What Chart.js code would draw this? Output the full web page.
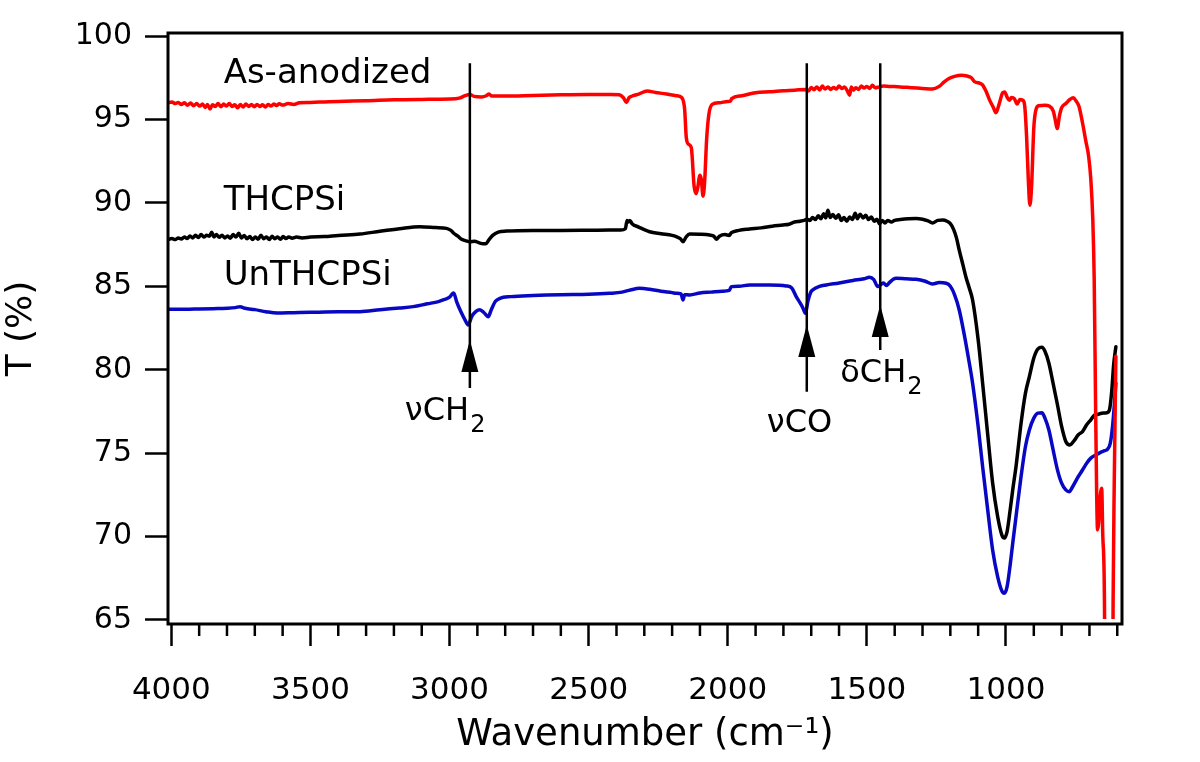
<!DOCTYPE html>
<html>
<head>
<meta charset="utf-8">
<script src="https://cdn.jsdelivr.net/npm/chart.js@4.4.1/dist/chart.umd.min.js"></script>
<style>
  html, body { margin: 0; padding: 0; background: #ffffff; }
  #c { display: block; }
</style>
</head>
<body>
<canvas id="c" width="1200" height="762"></canvas>
<script>
// ---------------- data (wavenumber cm-1, transmittance %) ----------------
const redSpectrum = [
[4010,96.0],[3998,96.05],[3986,95.95],[3975,96.02],[3964,95.9],[3953,96.0],[3942,95.85],[3931,95.98],[3920,95.82],[3909,95.95],[3898,95.8],[3888,95.92],[3878,95.72],[3870,95.9],[3861,95.62],[3852,95.88],[3842,95.78],[3832,95.95],[3822,95.76],[3812,95.92],[3802,95.8],[3792,95.96],[3782,95.78],[3772,95.88],[3762,95.7],[3752,95.9],[3742,95.74],[3732,95.92],[3722,95.78],[3712,95.9],[3702,95.76],[3692,95.9],[3682,95.78],[3672,95.88],[3662,95.74],[3652,95.9],[3642,95.8],[3632,95.92],[3622,95.84],[3612,95.94],[3600,95.86],[3580,95.95],[3560,95.9],[3540,96.0],[3500,96.02],[3450,96.05],[3400,96.08],[3300,96.12],[3200,96.18],[3100,96.2],[3000,96.22],[2965,96.28],[2945,96.42],[2927,96.5],[2912,96.38],[2885,96.35],[2868,96.42],[2858,96.52],[2848,96.4],[2800,96.4],[2700,96.44],[2600,96.48],[2500,96.5],[2420,96.5],[2390,96.48],[2375,96.3],[2364,96.02],[2355,96.3],[2340,96.42],[2320,96.52],[2290,96.7],[2260,96.62],[2220,96.52],[2185,96.42],[2165,96.3],[2155,95.6],[2149,93.9],[2140,93.5],[2131,93.3],[2121,91.0],[2114,90.55],[2107,91.0],[2101,91.65],[2095,91.4],[2089,90.4],[2083,91.3],[2076,93.8],[2068,95.3],[2056,95.9],[2030,96.0],[2000,96.08],[1990,96.1],[1986,96.25],[1950,96.42],[1900,96.6],[1850,96.66],[1800,96.72],[1760,96.75],[1720,96.8],[1710,96.7],[1700,96.92],[1690,96.78],[1680,96.95],[1670,96.76],[1660,97.0],[1650,96.82],[1640,96.95],[1630,96.8],[1620,96.92],[1610,96.82],[1600,97.0],[1590,96.85],[1580,96.95],[1570,96.7],[1562,96.45],[1556,96.95],[1548,96.75],[1540,96.9],[1530,96.8],[1520,97.0],[1510,96.88],[1500,96.98],[1490,96.86],[1480,97.05],[1470,96.9],[1455,96.95],[1440,97.0],[1420,96.98],[1380,96.95],[1340,96.9],[1300,96.86],[1265,96.82],[1240,96.98],[1222,97.25],[1205,97.45],[1185,97.58],[1160,97.65],[1140,97.6],[1125,97.5],[1112,97.25],[1100,97.2],[1085,97.08],[1072,96.7],[1060,96.2],[1045,95.7],[1036,95.4],[1025,95.9],[1012,96.6],[1005,96.65],[995,96.3],[988,96.15],[980,96.32],[970,96.25],[960,95.92],[950,96.2],[940,96.15],[933,95.85],[926,94.0],[920,91.5],[914,89.85],[908,91.0],[900,94.5],[892,95.6],[882,95.82],[860,95.85],[845,95.8],[830,95.5],[822,94.9],[816,94.45],[808,95.2],[800,95.7],[785,95.95],[770,96.2],[758,96.3],[748,96.1],[738,95.8],[725,94.8],[713,93.7],[703,92.8],[695,91.4],[688,89.0],[683,85.5],[678,78.0],[674,72.5],[671,70.4],[667,70.8],[661,72.5],[656,72.9],[652,70.0],[646,66.0],[640,40.0],[622,40.0],[615,66.0],[611,73.0],[605,80.8]
];
const blackSpectrum = [
[4010,87.82],[3998,87.86],[3986,87.8],[3975,87.9],[3964,87.83],[3953,87.96],[3943,87.86],[3933,88.02],[3923,87.9],[3913,88.06],[3903,87.92],[3893,88.1],[3883,87.95],[3873,88.06],[3863,88.0],[3855,88.24],[3847,87.96],[3838,88.1],[3828,87.94],[3818,88.06],[3808,87.9],[3798,88.02],[3788,87.88],[3778,88.1],[3768,87.95],[3758,88.18],[3748,87.9],[3738,88.05],[3728,87.85],[3718,87.98],[3708,87.8],[3698,87.95],[3688,87.82],[3678,88.06],[3668,87.85],[3658,87.96],[3648,87.8],[3638,88.0],[3628,87.85],[3618,87.96],[3608,87.82],[3598,87.98],[3588,87.86],[3578,87.96],[3566,87.88],[3550,87.95],[3530,87.9],[3500,87.95],[3450,87.98],[3400,88.05],[3322,88.13],[3250,88.3],[3180,88.45],[3107,88.57],[3050,88.52],[3011,88.47],[2995,88.35],[2985,88.18],[2970,88.0],[2957,87.82],[2940,87.72],[2927,87.67],[2910,87.7],[2895,87.62],[2880,87.55],[2870,87.55],[2858,87.8],[2845,88.05],[2825,88.25],[2795,88.31],[2700,88.35],[2600,88.35],[2500,88.36],[2424,88.37],[2385,88.37],[2368,88.45],[2362,88.95],[2357,88.85],[2352,88.95],[2344,88.75],[2320,88.55],[2281,88.27],[2240,88.15],[2200,88.05],[2185,87.97],[2170,87.85],[2161,87.67],[2150,87.95],[2137,88.13],[2100,88.12],[2065,88.07],[2050,88.0],[2041,87.82],[2030,88.0],[2010,88.1],[1995,88.05],[1987,88.21],[1960,88.35],[1922,88.43],[1880,88.5],[1840,88.6],[1802,88.67],[1780,88.72],[1760,88.85],[1740,88.9],[1725,88.95],[1715,89.02],[1705,88.95],[1695,89.12],[1685,89.0],[1675,89.22],[1665,89.05],[1655,89.35],[1648,89.1],[1640,89.55],[1632,89.12],[1622,89.3],[1612,89.08],[1602,89.28],[1592,88.95],[1582,89.12],[1572,88.9],[1562,89.15],[1552,89.0],[1542,89.38],[1534,89.05],[1524,89.32],[1514,89.1],[1504,89.25],[1494,89.0],[1484,89.15],[1474,88.9],[1464,89.02],[1455,88.75],[1445,88.95],[1435,88.8],[1425,88.95],[1412,88.85],[1400,88.95],[1380,89.0],[1350,89.05],[1323,89.07],[1300,89.02],[1280,88.92],[1264,88.8],[1245,88.95],[1227,88.97],[1212,88.9],[1200,88.75],[1188,88.4],[1178,87.9],[1168,87.17],[1155,86.3],[1143,85.5],[1132,84.9],[1120,84.18],[1100,81.8],[1084,79.2],[1065,76.0],[1048,73.21],[1030,71.2],[1015,70.1],[1006,69.91],[996,70.3],[985,71.6],[975,72.9],[964,74.19],[945,76.9],[930,78.6],[916,79.58],[900,80.7],[885,81.25],[871,81.34],[860,81.1],[846,80.4],[833,79.38],[815,77.9],[800,76.6],[785,75.7],[770,75.49],[755,75.75],[740,76.1],[725,76.29],[710,76.7],[695,77.0],[680,77.3],[670,77.32],[660,77.38],[650,77.4],[638,77.42],[628,77.6],[620,78.7],[613,80.3],[605,81.38]
];
const blueSpectrum = [
[4010,83.62],[3950,83.62],[3900,83.64],[3850,83.66],[3800,83.68],[3770,83.72],[3753,83.78],[3735,83.68],[3700,83.6],[3660,83.48],[3620,83.4],[3560,83.42],[3500,83.44],[3400,83.47],[3322,83.48],[3250,83.6],[3180,83.7],[3131,83.78],[3080,83.95],[3040,84.08],[3023,84.18],[3000,84.35],[2990,84.55],[2985,84.6],[2975,84.1],[2960,83.5],[2945,83.0],[2933,82.68],[2920,83.2],[2905,83.5],[2891,83.6],[2875,83.4],[2861,83.18],[2850,83.6],[2835,84.1],[2819,84.28],[2780,84.38],[2700,84.45],[2600,84.5],[2500,84.52],[2424,84.58],[2380,84.65],[2350,84.78],[2317,84.88],[2280,84.82],[2240,84.7],[2200,84.62],[2185,84.58],[2168,84.55],[2161,84.18],[2155,84.5],[2137,84.48],[2100,84.6],[2060,84.65],[2020,84.7],[1995,84.75],[1987,84.98],[1960,85.0],[1922,85.08],[1850,85.08],[1790,85.02],[1770,84.9],[1754,84.38],[1740,84.0],[1730,83.7],[1721,83.38],[1712,84.1],[1703,84.6],[1695,84.78],[1670,85.0],[1646,85.08],[1600,85.2],[1550,85.35],[1510,85.45],[1491,85.54],[1475,85.4],[1461,84.98],[1450,85.1],[1440,85.2],[1430,85.05],[1419,85.22],[1405,85.42],[1395,85.48],[1360,85.45],[1323,85.42],[1290,85.3],[1264,85.14],[1240,85.22],[1215,85.18],[1200,85.0],[1185,84.5],[1168,83.58],[1150,82.1],[1135,80.7],[1120,79.19],[1100,76.6],[1084,74.19],[1065,71.5],[1048,69.2],[1030,67.6],[1015,66.75],[1006,66.6],[996,67.0],[985,68.3],[975,69.7],[964,71.19],[945,73.7],[930,75.4],[916,76.39],[900,77.1],[885,77.4],[871,77.42],[860,77.1],[846,76.4],[833,75.39],[815,74.0],[800,73.2],[785,72.8],[773,72.69],[760,73.0],[740,73.6],[725,73.99],[710,74.4],[695,74.7],[677,74.89],[660,75.05],[645,75.15],[635,75.23],[625,75.6],[617,76.6],[610,78.0],[605,79.19]
];

const seriesNames = ['As-anodized', 'THCPSi', 'UnTHCPSi'];
const xTickValues = [4000,3900,3800,3700,3600,3500,3400,3300,3200,3100,3000,2900,2800,2700,2600,2500,2400,2300,2200,2100,2000,1900,1800,1700,1600,1500,1400,1300,1200,1100,1000,900,800,700,600];
const yTickValues = [65, 70, 75, 80, 85, 90, 95, 100];

// band annotations
const bandWavenumbers = [2927, 1716, 1452];
const bandNames = ['νCH', 'νCO', 'δCH'];
const bandSubscripts = ['2', '', '2'];
const bandArrowTipT = [81.78, 82.68, 83.88];
const bandStemEndT = [78.9, 78.68, 81.18];
const bandLineTopT = 98.36;
const bandLabelT = [76.99, 76.29, 79.28];
const bandLabelDx = [-65, -40, -40];

// series label anchors (data coordinates)
const seriesLabelWn = 3812;
const seriesLabelT = [97.18, 89.57, 85.08];

// ---------------- drawing ----------------
const FONT = "'DejaVu Sans', sans-serif";
const toXY = arr => arr.map(p => ({ x: p[0], y: p[1] }));

const annotationPlugin = {
  id: 'annot',
  afterDatasetsDraw(chart) {
    const ctx = chart.ctx;
    const xs = chart.scales.x, ys = chart.scales.y;
    const area = chart.chartArea;
    ctx.save();
    ctx.strokeStyle = '#000';
    ctx.fillStyle = '#000';
    ctx.lineWidth = 2.5;
    bandWavenumbers.forEach((wn, i) => {
      const x = xs.getPixelForValue(wn);
      const yTop = ys.getPixelForValue(bandLineTopT);
      const yTip = ys.getPixelForValue(bandArrowTipT[i]);
      const yEnd = ys.getPixelForValue(bandStemEndT[i]);
      ctx.beginPath();
      ctx.moveTo(x, yTop);
      ctx.lineTo(x, yEnd);
      ctx.stroke();
      ctx.beginPath();
      ctx.moveTo(x, yTip);
      ctx.lineTo(x - 8.5, yTip + 32);
      ctx.lineTo(x + 8.5, yTip + 32);
      ctx.closePath();
      ctx.fill();
      const ly = ys.getPixelForValue(bandLabelT[i]);
      const lx = x + bandLabelDx[i];
      ctx.textBaseline = 'alphabetic';
      ctx.textAlign = 'left';
      ctx.font = `32px ${FONT}`;
      ctx.fillText(bandNames[i], lx, ly);
      if (bandSubscripts[i]) {
        const w = ctx.measureText(bandNames[i]).width;
        ctx.font = `24px ${FONT}`;
        ctx.fillText(bandSubscripts[i], lx + w + 1, ly + 12);
      }
    });
    ctx.font = `34px ${FONT}`;
    ctx.textAlign = 'left';
    ctx.textBaseline = 'alphabetic';
    seriesNames.forEach((name, i) => {
      ctx.fillText(name, xs.getPixelForValue(seriesLabelWn), ys.getPixelForValue(seriesLabelT[i]));
    });
    ctx.lineWidth = 3;
    ctx.strokeRect(area.left, area.top, area.right - area.left, area.bottom - area.top);
    ctx.lineWidth = 2.5;
    xTickValues.forEach(v => {
      if (v % 500 !== 0) {
        const x = xs.getPixelForValue(v);
        ctx.beginPath();
        ctx.moveTo(x, area.bottom);
        ctx.lineTo(x, area.bottom + 12);
        ctx.stroke();
      }
    });
    ctx.restore();
  }
};

new Chart(document.getElementById('c'), {
  type: 'line',
  data: {
    datasets: [
      { label: seriesNames[0], data: toXY(redSpectrum), borderColor: '#ff0000', borderWidth: 3.5,
        clip: { left: 0, top: 0, right: 0, bottom: -5 } },
      { label: seriesNames[1], data: toXY(blackSpectrum), borderColor: '#000000', borderWidth: 3.5 },
      { label: seriesNames[2], data: toXY(blueSpectrum), borderColor: '#0808c4', borderWidth: 3.5 }
    ]
  },
  options: {
    responsive: false,
    animation: false,
    devicePixelRatio: 1,
    elements: {
      point: { radius: 0 },
      line: { cubicInterpolationMode: 'monotone', fill: false, borderJoinStyle: 'round', borderCapStyle: 'round' }
    },
    layout: { padding: { top: 33, right: 78, left: 0, bottom: 0 } },
    plugins: { legend: { display: false }, tooltip: { enabled: false } },
    scales: {
      x: {
        type: 'linear', reverse: true, min: 583, max: 4012, position: 'bottom',
        afterBuildTicks: s => { s.ticks = xTickValues.map(v => ({ value: v })); },
        afterFit: s => { s.height = 138; },
        ticks: {
          autoSkip: false, maxRotation: 0, minRotation: 0, color: '#000', padding: 26,
          font: { family: FONT, size: 31 },
          callback: v => (v % 500 === 0 ? String(v) : '')
        },
        grid: {
          drawOnChartArea: false, drawTicks: true, tickLength: 22, tickWidth: 2.5,
          tickColor: c => (c.tick && c.tick.value % 500 === 0 ? '#000' : 'rgba(0,0,0,0)')
        },
        border: { display: false },
        title: {
          display: true, text: 'Wavenumber (cm⁻¹)', color: '#000',
          font: { family: FONT, size: 37 }, padding: { top: 0, bottom: 4 }
        }
      },
      y: {
        type: 'linear', min: 64.76, max: 100.18,
        afterBuildTicks: s => { s.ticks = yTickValues.map(v => ({ value: v })); },
        afterFit: s => { s.width = 168; },
        ticks: { color: '#000', padding: 13, font: { family: FONT, size: 30 } },
        grid: { drawOnChartArea: false, drawTicks: true, tickLength: 23, tickWidth: 2.5, tickColor: '#000' },
        border: { display: false },
        title: {
          display: true, text: 'T (%)', color: '#000',
          font: { family: FONT, size: 36 }, padding: { top: 0, bottom: 0 }
        }
      }
    }
  },
  plugins: [annotationPlugin]
});
</script>
</body>
</html>
